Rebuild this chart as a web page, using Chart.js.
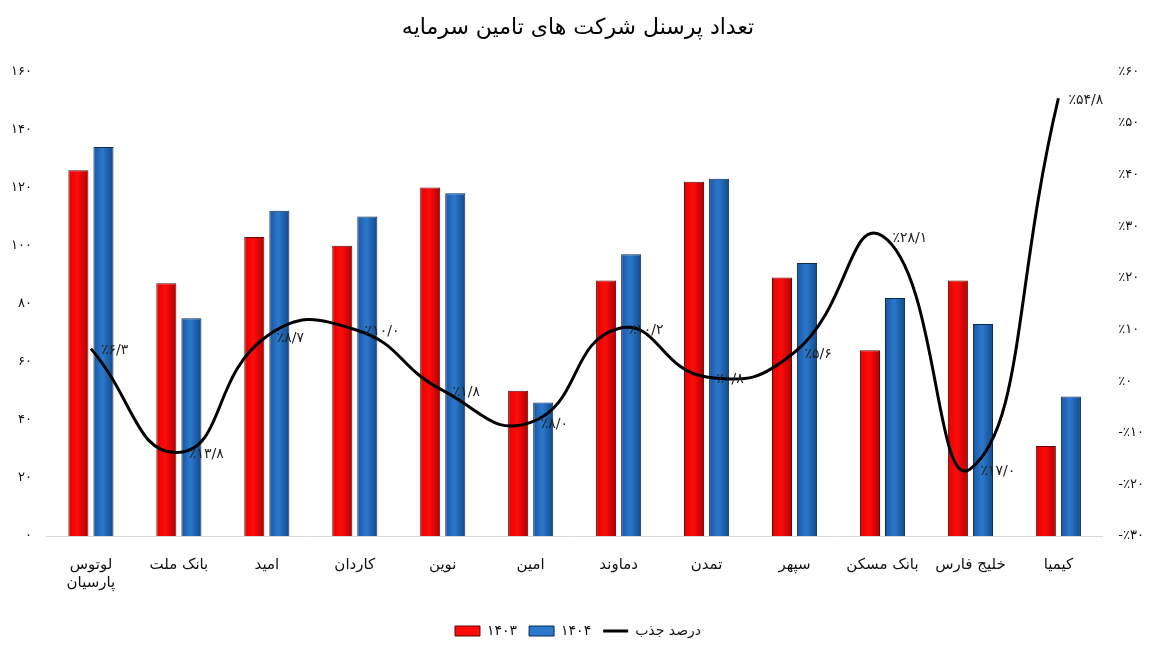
<!DOCTYPE html>
<html lang="fa">
<head>
<meta charset="utf-8">
<title>تعداد پرسنل شرکت های تامین سرمایه</title>
<script src="https://cdn.jsdelivr.net/npm/chart.js@4.4.1/dist/chart.umd.min.js"></script>
<style>
  html, body { margin: 0; padding: 0; background: #fff; }
  #wrap { position: relative; width: 1155px; height: 648px; }
</style>
</head>
<body>
<div id="wrap"><canvas id="chart"></canvas></div>
<script>
  // Companies, left to right as in the picture
  const categories = [
    ['لوتوس', 'پارسیان'], 'بانک ملت', 'امید', 'کاردان', 'نوین', 'امین',
    'دماوند', 'تمدن', 'سپهر', 'بانک مسکن', 'خلیج فارس', 'کیمیا'
  ];
  const staff1403 = [126, 87, 103, 100, 120, 50, 88, 122, 89, 64, 88, 31];
  const staff1404 = [134, 75, 112, 110, 118, 46, 97, 123, 94, 82, 73, 48];
  // growth in percent (درصد جذب)
  const growth = [6.3, -13.8, 8.7, 10.0, -1.8, -8.0, 10.2, 0.8, 5.6, 28.1, -17.0, 54.8];
  // labels as printed next to the line points
  const growthLabels = ['٪۶/۳', '٪۱۳/۸', '٪۸/۷', '٪۱۰/۰', '٪۱/۸', '٪۸/۰', '٪۱۰/۲', '٪۰/۸', '٪۵/۶', '٪۲۸/۱', '٪۱۷/۰', '٪۵۴/۸'];
  const leftTicks = { 0: '۰', 20: '۲۰', 40: '۴۰', 60: '۶۰', 80: '۸۰', 100: '۱۰۰', 120: '۱۲۰', 140: '۱۴۰', 160: '۱۶۰' };
  const rightTicks = { '-30': '-٪۳۰', '-20': '-٪۲۰', '-10': '-٪۱۰', 0: '٪۰', 10: '٪۱۰', 20: '٪۲۰', 30: '٪۳۰', 40: '٪۴۰', 50: '٪۵۰', 60: '٪۶۰' };

  const FONT = "'DejaVu Sans', sans-serif";

  // left / middle / right shade of each bar, like the Excel gradient fill
  const barShades = [
    ['#e60000', '#ff0b0b', '#b00000'],
    ['#1a56a2', '#2c78cc', '#104a8a']
  ];

  // bar elements get their own horizontal gradient once their x/width are known
  const barShading = {
    id: 'barShading',
    beforeDatasetsDraw(chart) {
      const c = chart.ctx;
      [0, 1].forEach(di => {
        chart.getDatasetMeta(di).data.forEach(el => {
          const x0 = el.x - el.width / 2, x1 = el.x + el.width / 2;
          if (!isFinite(x0) || !isFinite(x1)) return;
          const g = c.createLinearGradient(x0, 0, x1, 0);
          g.addColorStop(0, barShades[di][0]);
          g.addColorStop(0.45, barShades[di][1]);
          g.addColorStop(1, barShades[di][2]);
          el.options.backgroundColor = g;
        });
      });
    }
  };

  const pointLabels = {
    id: 'pointLabels',
    afterDatasetsDraw(chart) {
      const meta = chart.getDatasetMeta(2);
      const c = chart.ctx;
      c.save();
      c.font = '14px ' + FONT;
      c.fillStyle = '#222';
      c.textAlign = 'left';
      c.textBaseline = 'middle';
      meta.data.forEach((pt, i) => {
        c.fillText(growthLabels[i], pt.x + 10, pt.y + 2);
      });
      c.restore();
    }
  };

  new Chart(document.getElementById('chart'), {
    data: {
      labels: categories,
      datasets: [
        {
          type: 'bar', label: '۱۴۰۳', data: staff1403, yAxisID: 'y',
          backgroundColor: () => barShades[0][1],
          borderColor: '#5a0a0a', borderWidth: 1,
          categoryPercentage: 0.57, barPercentage: 0.8, order: 2,
          pointStyle: 'rect'
        },
        {
          type: 'bar', label: '۱۴۰۴', data: staff1404, yAxisID: 'y',
          backgroundColor: () => barShades[1][1],
          borderColor: '#0c2a55', borderWidth: 1,
          categoryPercentage: 0.57, barPercentage: 0.8, order: 2,
          pointStyle: 'rect'
        },
        {
          type: 'line', label: 'درصد جذب', data: growth, yAxisID: 'y1',
          borderColor: '#000', backgroundColor: '#000', borderWidth: 3,
          pointRadius: 0, tension: 0.5, order: 1,
          pointStyle: 'line'
        }
      ]
    },
    options: {
      responsive: true,
      maintainAspectRatio: false,
      animation: false,
      layout: { padding: { left: 4, right: 3, top: 0, bottom: 0 } },
      plugins: {
        title: {
          display: true,
          text: 'تعداد پرسنل شرکت های تامین سرمایه',
          color: '#000',
          font: { family: FONT, size: 22, weight: 'normal' },
          padding: { top: 15, bottom: 30 }
        },
        legend: {
          position: 'bottom',
          labels: {
            usePointStyle: true,
            pointStyleWidth: 25,
            boxHeight: 10,
            color: '#111',
            font: { family: FONT, size: 14 },
            padding: 12,
            sort: (a, b) => a.datasetIndex - b.datasetIndex
          }
        },
        tooltip: { enabled: false }
      },
      scales: {
        x: {
          grid: { display: false, drawTicks: false },
          border: { display: true, color: '#d9d9d9' },
          ticks: { color: '#111', font: { family: FONT, size: 15 }, padding: 20, maxRotation: 0, autoSkip: false }
        },
        y: {
          position: 'left', min: 0, max: 160,
          grid: { display: false },
          border: { display: false },
          ticks: { stepSize: 20, color: '#111', font: { family: FONT, size: 13 }, padding: 7,
            callback: (v) => leftTicks[v] }
        },
        y1: {
          position: 'right', min: -30, max: 60,
          grid: { display: false },
          border: { display: false },
          ticks: { stepSize: 10, color: '#111', font: { family: FONT, size: 13 }, padding: 8,
            callback: (v) => rightTicks[v] }
        }
      }
    },
    plugins: [barShading, pointLabels]
  });
</script>
</body>
</html>
